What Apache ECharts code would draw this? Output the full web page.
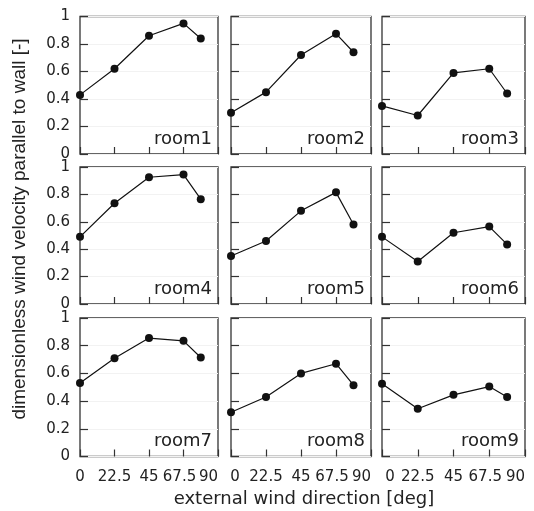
<!DOCTYPE html>
<html>
<head>
<meta charset="utf-8">
<script src="https://cdn.jsdelivr.net/npm/echarts@6/dist/echarts.min.js"></script>
<style>
  html, body { margin: 0; padding: 0; background: #fff; }
  #chart { width: 534px; height: 511px; }
</style>
</head>
<body>
<div id="chart"></div>
<script>
// wind direction of each measurement [deg]
var windDir = [0, 22.5, 45, 67.5, 78.75];
var xTicks = [0, 22.5, 45, 67.5, 90];

var room1 = [0.43, 0.62, 0.86, 0.95, 0.84];
var room2 = [0.30, 0.45, 0.72, 0.875, 0.74];
var room3 = [0.35, 0.28, 0.59, 0.62, 0.44];
var room4 = [0.49, 0.735, 0.925, 0.945, 0.765];
var room5 = [0.35, 0.46, 0.68, 0.815, 0.58];
var room6 = [0.49, 0.31, 0.52, 0.565, 0.435];
var room7 = [0.53, 0.71, 0.855, 0.835, 0.715];
var room8 = [0.32, 0.43, 0.60, 0.67, 0.515];
var room9 = [0.525, 0.345, 0.445, 0.505, 0.43];

var roomNames = ['room1', 'room2', 'room3', 'room4', 'room5', 'room6', 'room7', 'room8', 'room9'];
var roomData = [room1, room2, room3, room4, room5, room6, room7, room8, room9];

// panel edges in px
var colLeft = [80, 231, 382];
var colRight = [218, 371, 525];
var rowTop = [16.5, 167, 318];
var rowBottom = [154, 304, 456.5];
// the "0" under the 2nd and 3rd column sits a bit right of the edge
var zeroPad = [0, 8, 16];

var W = 534, H = 511;
var font = 'DejaVu Sans, sans-serif';
var titleFont = 'Liberation Sans, Arial, sans-serif';
var tickSize = 15;

var grids = [], xAxes = [], yAxes = [], series = [], titles = [];

function xLabel(v) {
    if (v === 0) return '{z|0}';
    if (v === 67.5) return '{s|67.5}';
    return '{n|' + v + '}';
}

for (var i = 0; i < 9; i++) {
    var r = Math.floor(i / 3), c = i % 3;
    grids.push({
        left: colLeft[c],
        top: rowTop[r],
        width: colRight[c] - colLeft[c],
        height: rowBottom[r] - rowTop[r],
        show: true,
        borderColor: '#333',
        borderWidth: 1.3,
        backgroundColor: 'transparent'
    });
    xAxes.push({
        gridIndex: i,
        type: 'value',
        min: xTicks[0],
        max: xTicks[xTicks.length - 1],
        interval: 22.5,
        axisLine: { show: false },
        axisTick: { show: true, inside: true, length: 7, lineStyle: { color: '#333', width: 1.2 } },
        splitLine: { show: false },
        axisLabel: {
            show: r === 2,
            showMinLabel: true,
            showMaxLabel: true,
            hideOverlap: false,
            color: '#222',
            fontFamily: font,
            fontSize: tickSize,
            margin: 13,
            alignMaxLabel: 'right',
            formatter: xLabel,
            rich: {
                n: { fontFamily: font, fontSize: tickSize, color: '#222' },
                z: { fontFamily: font, fontSize: tickSize, color: '#222', padding: [0, 0, 0, zeroPad[c]] },
                s: { fontFamily: font, fontSize: tickSize, color: '#222', padding: [0, 8, 0, 0] }
            }
        }
    });
    yAxes.push({
        gridIndex: i,
        type: 'value',
        min: 0,
        max: 1,
        interval: 0.2,
        axisLine: { show: false },
        axisTick: { show: true, inside: true, length: 8, lineStyle: { color: '#333', width: 1.2 } },
        splitLine: { show: true, lineStyle: { color: '#f2f2f2', width: 1 } },
        axisLabel: {
            show: c === 0,
            showMinLabel: true,
            showMaxLabel: true,
            hideOverlap: false,
            color: '#222',
            fontFamily: font,
            fontSize: tickSize,
            margin: 10,
            formatter: function (v) { return v === 0 || v === 1 ? String(v) : v.toFixed(1); }
        }
    });
    var pts = [];
    for (var k = 0; k < windDir.length; k++) pts.push([windDir[k], roomData[i][k]]);
    series.push({
        name: roomNames[i],
        type: 'line',
        xAxisIndex: i,
        yAxisIndex: i,
        data: pts,
        clip: false,
        symbol: 'circle',
        symbolSize: 8,
        itemStyle: { color: '#111' },
        lineStyle: { color: '#111', width: 1.2 },
        animation: false
    });
    titles.push({
        text: roomNames[i],
        right: W - colRight[c] + 6,
        top: rowBottom[r] - 24,
        padding: 0,
        textStyle: { fontFamily: font, fontSize: 18, fontWeight: 'normal', color: '#222' }
    });
}

var chart = echarts.init(document.getElementById('chart'));
chart.setOption({
    animation: false,
    backgroundColor: '#fff',
    title: titles,
    grid: grids,
    xAxis: xAxes,
    yAxis: yAxes,
    series: series,
    graphic: [
        {
            type: 'text',
            x: 20, y: 229,
            rotation: Math.PI / 2,
            style: {
                text: 'dimensionless wind velocity parallel to wall [-]',
                fontFamily: titleFont, fontSize: 19, fill: '#222',
                align: 'center', verticalAlign: 'middle'
            }
        },
        {
            type: 'text',
            x: 304, y: 499,
            style: {
                text: 'external wind direction [deg]',
                fontFamily: font, fontSize: 18, fill: '#222',
                align: 'center', verticalAlign: 'middle'
            }
        }
    ]
});
</script>
</body>
</html>
